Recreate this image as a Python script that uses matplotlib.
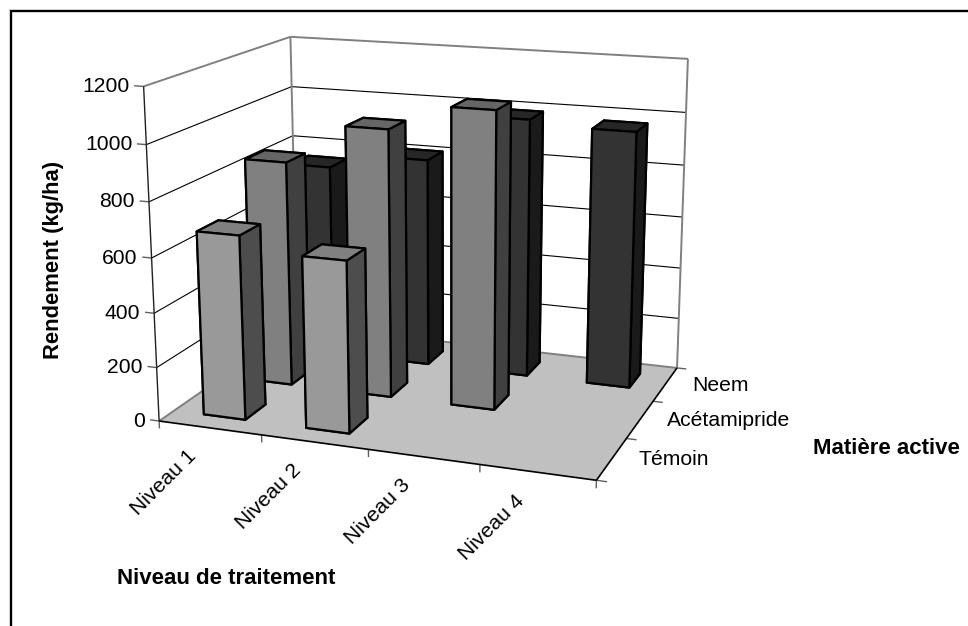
import numpy as np
import matplotlib
matplotlib.use("Agg")
import matplotlib.pyplot as plt
from mpl_toolkits.mplot3d import Axes3D
from mpl_toolkits.mplot3d.art3d import Poly3DCollection, Line3DCollection

plt.rcParams['font.family'] = ['Liberation Sans', 'DejaVu Sans']

# ---- data ----
niveaux = ["Niveau 1", "Niveau 2", "Niveau 3", "Niveau 4"]
matieres = ["Témoin", "Acétamipride", "Neem"]
temoin = [677, 625]
acetamipride = [852, 1002, 1097]
neem = [750, 808, 990, 972]
z_ticks = [0, 200, 400, 600, 800, 1000, 1200]
y_label = "Rendement (kg/ha)"
x_label = "Niveau de traitement"
d_label = "Matière active"

W, H = 968, 626
XMAX, YMAX, ZMAX = 4.0, 3.0, 1200.0

# calibration of the 3D box against the picture (box corner -> pixel)
box = np.array([[0, 0, 0], [XMAX, 0, 0], [XMAX, YMAX, 0], [0, YMAX, 0],
                [0, 0, ZMAX], [0, YMAX, ZMAX], [XMAX, YMAX, ZMAX]], float)
pix = np.array([[158.5, 421], [596.7, 480], [676.7, 368.3], [298, 325],
                [144, 86.7], [290, 36.7], [688, 58.7]], float)

A = []
for (x, y, z), (u, v) in zip(box, pix):
    A.append([x, y, z, 1, 0, 0, 0, 0, -u*x, -u*y, -u*z, -u])
    A.append([0, 0, 0, 0, x, y, z, 1, -v*x, -v*y, -v*z, -v])
P = np.linalg.svd(np.array(A))[2][-1].reshape(3, 4)
if P[2, 3] < 0:
    P = -P
depth = np.array([-0.25, 1.0, -0.0004, 6.0]) * P[2, 3]
M = np.array([P[0], H*P[2] - P[1], depth, P[2]])


def project(x, y, z):
    """pixel position (from top-left) of a data point"""
    u, v, w = P @ np.array([x, y, z, 1.0])
    return u / w, v / w


fig = plt.figure(figsize=(W/100, H/100), dpi=100, facecolor='white')
ax = fig.add_axes([0, 0, 1, 1], projection='3d')
ax.set_axis_off()
ax.computed_zorder = False
ax.get_proj = lambda: M
ax.viewLim.intervalx = (0, W)
ax.viewLim.intervaly = (0, H)
ax.apply_aspect = lambda *a, **k: None

GR = '#808080'
ax.add_collection3d(Poly3DCollection(
    [[(0, 0, 0), (XMAX, 0, 0), (XMAX, YMAX, 0), (0, YMAX, 0)]],
    facecolors='#c0c0c0', edgecolors='none', zorder=1))


def segs(lines, c, lw, z=2):
    ax.add_collection3d(Line3DCollection(lines, colors=c, linewidths=lw, zorder=z))


grid = []
for t in z_ticks[1:-1]:
    grid.append([(0, 0, t), (0, YMAX, t)])
    grid.append([(0, YMAX, t), (XMAX, YMAX, t)])
segs(grid, 'black', 0.8)
segs([[(0, 0, ZMAX), (0, YMAX, ZMAX)], [(0, YMAX, ZMAX), (XMAX, YMAX, ZMAX)],
      [(0, YMAX, 0), (0, YMAX, ZMAX)], [(XMAX, YMAX, 0), (XMAX, YMAX, ZMAX)],
      [(0, 0, 0), (0, YMAX, 0)], [(0, YMAX, 0), (XMAX, YMAX, 0)]], GR, 1.4)
segs([[(0, 0, 0), (0, 0, ZMAX)]], '#202020', 1.0, 3)
segs([[(0, 0, 0), (XMAX, 0, 0)], [(XMAX, 0, 0), (XMAX, YMAX, 0)]], 'black', 1.2, 3)
segs([[(-0.09, 0, t), (0, 0, t)] for t in z_ticks], '#606060', 1.0)
segs([[(i, 0, -28), (i, 0, 0)] for i in range(len(niveaux) + 1)], '#606060', 1.0)
segs([[(XMAX, j, 0), (XMAX + 0.09, j, 0)] for j in range(len(matieres) + 1)], '#606060', 1.0)

# bars
BW, BD = 0.41, 0.42
rows = [(neem, 2, '#333333', '#1a1a1a', '#262626'),
        (acetamipride, 1, '#808080', '#404040', '#666666'),
        (temoin, 0, '#999999', '#4d4d4d', '#808080')]
zo = 10
for vals, j, front, side, top in rows:
    for i, v in enumerate(vals):
        cols = [side, top, front, side, side, side]   # -z +z -y +y -x +x
        ax.bar3d(i + 0.5 - BW/2, j + 0.5 - BD/2, 0, BW, BD, v, color=cols,
                 shade=False, edgecolor='black', linewidth=1.6, zorder=zo)
        zo += 1

ax.set_xlim3d(0, 4)
ax.set_ylim3d(0, 3)
ax.set_zlim3d(0, 1200)


def label(x, y, s, **kw):
    fig.text(x / W, 1 - y / H, s, **kw)


FS = 15.2
for t in z_ticks:
    u, v = project(0, 0, t)
    label(u - 14, v, str(t), ha='right', va='center', fontsize=FS)
for i, name in enumerate(niveaux):
    u, v = project(i + 0.5, 0, 0)
    label(u - 46, v + 55, name, rotation=45, ha='center', va='center',
          rotation_mode='anchor', fontsize=FS)
for j, name in enumerate(matieres):
    u, v = project(XMAX, j + 0.5, 0)
    label(u + 27, v + 1, name, ha='left', va='center', fontsize=FS)

label(54, 260, y_label, rotation=90, ha='center', va='center', fontsize=15.8, fontweight='bold')
label(226, 578, x_label, ha='center', va='center', fontsize=16, fontweight='bold')
label(886, 448, d_label, ha='center', va='center', fontsize=16, fontweight='bold')

# frame
fig.add_artist(plt.Rectangle((10.5/W, -0.02), (W + 20)/W, 1 - 11/H + 0.02, transform=fig.transFigure,
                             fill=False, edgecolor='black', linewidth=1.7))
fig.add_artist(plt.Line2D([9/W, 1], [1 - 9.4/H, 1 - 9.4/H], color='#d0d0d0', lw=0.7))

fig.savefig('out.png', dpi=100)
